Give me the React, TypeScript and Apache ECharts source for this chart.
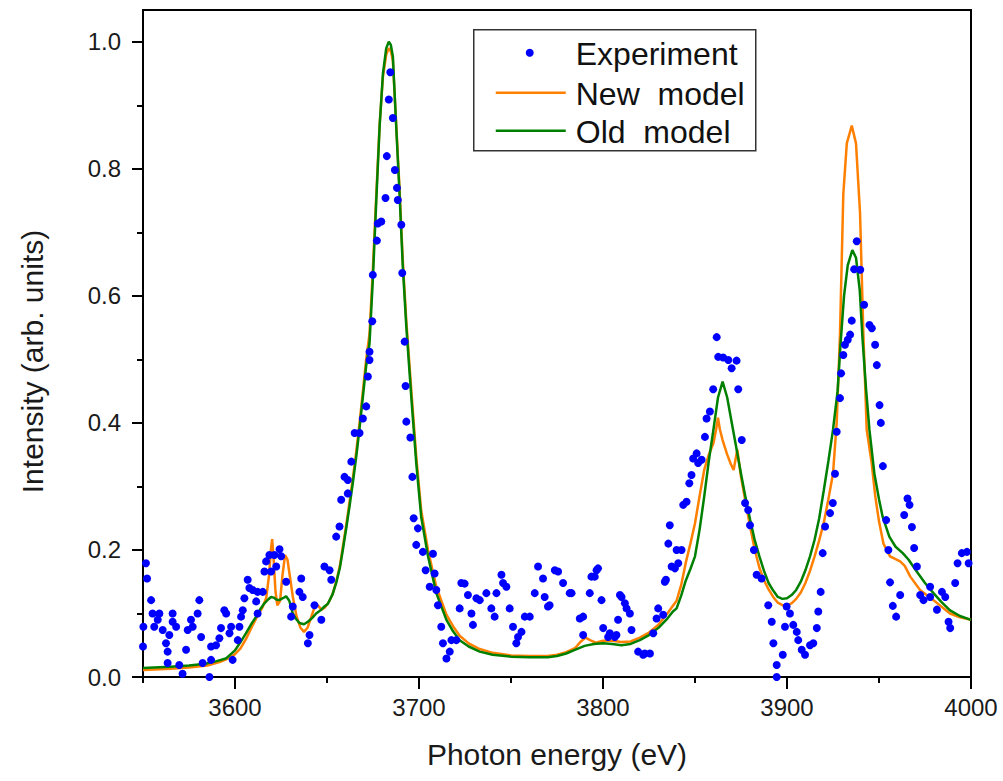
import React, { useEffect, useRef } from "react";
import * as echarts from "echarts";

// ---------- data ----------
const xMajorTicks = [3600, 3700, 3800, 3900, 4000];
const xMinorTicks = [3550, 3650, 3750, 3850, 3950];
const yMajorTicks = [0, 0.2, 0.4, 0.6, 0.8, 1.0];
const yMinorTicks = [0.1, 0.3, 0.5, 0.7, 0.9];

const seriesNames = ["Experiment", "New  model", "Old  model"];

const experiment: [number, number][] = [
  [3550.2, 0.079], [3550, 0.048], [3551.6, 0.179], [3552.2, 0.155], [3554.4, 0.121], [3555.2, 0.1],
  [3556.1, 0.079], [3558, 0.09], [3558.9, 0.1], [3560.7, 0.074], [3562.5, 0.053], [3563.4, 0.04],
  [3563.4, 0.022], [3564.3, 0.066], [3566.1, 0.1], [3566.1, 0.087], [3568, 0.079], [3569.7, 0.019],
  [3571.5, 0.005], [3573.4, 0.043], [3574.3, 0.074], [3576.1, 0.09], [3577, 0.079], [3579.7, 0.1],
  [3580.6, 0.121], [3581.6, 0.063], [3582.4, 0.022], [3586.1, 0.0], [3587, 0.027], [3587, 0.048],
  [3589.7, 0.05], [3591.5, 0.061], [3592.4, 0.077], [3594.2, 0.105], [3595.2, 0.1], [3597, 0.069],
  [3597.9, 0.079], [3598.7, 0.027], [3601.5, 0.058], [3602.4, 0.079], [3603.3, 0.095], [3604.2, 0.105],
  [3605.1, 0.124], [3606.9, 0.153], [3607.8, 0.14], [3609.6, 0.137], [3611.5, 0.119], [3612.3, 0.1],
  [3612.3, 0.134], [3615.1, 0.134], [3616, 0.166], [3616.9, 0.182], [3618.7, 0.192], [3619.6, 0.166],
  [3621.4, 0.192], [3622.4, 0.174], [3624.2, 0.201], [3625.1, 0.19], [3627.8, 0.15], [3630.5, 0.095],
  [3631.4, 0.111], [3635, 0.134], [3636, 0.155], [3636.8, 0.126], [3639.6, 0.053], [3640.5, 0.066],
  [3643.2, 0.113], [3646.9, 0.09], [3648.6, 0.174], [3651.4, 0.168], [3652.3, 0.153], [3655, 0.221],
  [3656.8, 0.237], [3657.7, 0.279], [3659.5, 0.315], [3661.3, 0.31], [3661.3, 0.289], [3663.2, 0.339],
  [3665, 0.384], [3667.7, 0.384], [3669.5, 0.407], [3671.3, 0.426], [3672.2, 0.473], [3673.1, 0.499],
  [3673.1, 0.512], [3674.6, 0.56], [3674.9, 0.633], [3677.1, 0.687], [3677.6, 0.714], [3679.5, 0.717],
  [3681.8, 0.754], [3682.5, 0.82], [3683.6, 0.909], [3684.4, 0.952], [3685.8, 0.88], [3686.9, 0.798],
  [3688, 0.77], [3688.5, 0.751], [3690.4, 0.712], [3690.9, 0.636], [3692.2, 0.528], [3692.7, 0.458],
  [3693.1, 0.402], [3695.3, 0.377], [3696.4, 0.315], [3697.1, 0.25], [3699.4, 0.234], [3698.5, 0.208],
  [3702.1, 0.197], [3703.6, 0.168], [3707.6, 0.194], [3705.8, 0.142], [3708.5, 0.163], [3709.4, 0.137],
  [3710.3, 0.113], [3712.1, 0.079], [3713, 0.053], [3714.9, 0.029], [3716.7, 0.04], [3717.6, 0.058],
  [3720.3, 0.058], [3722.1, 0.108], [3723, 0.148], [3724.8, 0.147], [3726.6, 0.129], [3728.5, 0.1],
  [3729.3, 0.082], [3731.2, 0.124], [3733, 0.121], [3736.6, 0.132], [3739.3, 0.108], [3741.1, 0.095],
  [3742.1, 0.132], [3744.8, 0.161], [3745.7, 0.148], [3747.5, 0.142], [3749.3, 0.108], [3751.1, 0.079],
  [3752.9, 0.053], [3753.8, 0.063], [3755.7, 0.071], [3757.5, 0.095], [3760.2, 0.095], [3762.9, 0.132],
  [3764.7, 0.174], [3767.4, 0.155], [3768.3, 0.126], [3770.1, 0.111], [3771, 0.113], [3773.8, 0.168],
  [3775.6, 0.166], [3778.3, 0.148], [3781.9, 0.132], [3782.9, 0.132], [3787.4, 0.092], [3789.2, 0.095],
  [3789.2, 0.066], [3792.8, 0.132], [3793.7, 0.158], [3795.5, 0.158], [3796.5, 0.168], [3797.3, 0.171],
  [3799.2, 0.121], [3800.1, 0.077], [3802.8, 0.063], [3803.7, 0.069], [3806.4, 0.063], [3807.3, 0.066],
  [3808.2, 0.09], [3809.2, 0.129], [3810.1, 0.126], [3811.9, 0.116], [3812.8, 0.108], [3814.6, 0.1],
  [3815.5, 0.074], [3819.1, 0.04], [3821.8, 0.035], [3822.7, 0.037], [3825.5, 0.037], [3827.3, 0.069],
  [3829.1, 0.092], [3830, 0.108], [3832.7, 0.098], [3833.6, 0.15], [3834.2, 0.153], [3835.5, 0.21],
  [3836.3, 0.239], [3837.3, 0.174], [3839.1, 0.171], [3840, 0.2], [3840.9, 0.179], [3842.7, 0.2],
  [3843.6, 0.271], [3845.4, 0.276], [3846.9, 0.305], [3848.1, 0.318], [3849, 0.344], [3850.9, 0.352],
  [3851.7, 0.337], [3853.6, 0.342], [3855.4, 0.378], [3856.3, 0.407], [3858.1, 0.418], [3859.9, 0.453],
  [3861.8, 0.535], [3862.6, 0.504], [3865.3, 0.503], [3868.1, 0.499], [3869.9, 0.486], [3872.6, 0.498],
  [3873.5, 0.453], [3875.4, 0.373], [3877.2, 0.274], [3878.9, 0.263], [3879.9, 0.239], [3882, 0.2],
  [3883.5, 0.161], [3886.2, 0.155], [3889.8, 0.113], [3891.7, 0.087], [3892.6, 0.053], [3894.4, 0.019],
  [3894.4, 0.0], [3897.7, 0.035], [3898.9, 0.079], [3899.8, 0.111], [3901.6, 0.1], [3903.4, 0.082],
  [3905.3, 0.071], [3906.1, 0.058], [3908, 0.043], [3909.8, 0.035], [3912.5, 0.05], [3914.3, 0.053],
  [3916.2, 0.077], [3917, 0.103], [3918.3, 0.134], [3919.4, 0.195], [3920.7, 0.237], [3923.4, 0.258],
  [3924.9, 0.274], [3926.1, 0.32], [3927, 0.386], [3928.8, 0.439], [3929.4, 0.478], [3930.6, 0.507],
  [3931.5, 0.523], [3933, 0.531], [3934.3, 0.539], [3935.2, 0.561], [3936.5, 0.642], [3937.9, 0.686],
  [3939.8, 0.641], [3941.9, 0.586], [3944.8, 0.554], [3946.1, 0.549], [3947.9, 0.523], [3948.8, 0.491],
  [3950.3, 0.428], [3951, 0.4], [3952.1, 0.332], [3953.9, 0.247], [3955.1, 0.2], [3956, 0.149],
  [3957.5, 0.112], [3959.3, 0.095], [3961.5, 0.129], [3963.7, 0.255], [3965.5, 0.281], [3966.6, 0.271],
  [3967.9, 0.236], [3969.1, 0.203], [3970.6, 0.174], [3972.4, 0.129], [3974.2, 0.121], [3977.8, 0.126],
  [3977.8, 0.142], [3981.5, 0.106], [3984.2, 0.134], [3986, 0.126], [3987.8, 0.087], [3988.7, 0.077],
  [3991.4, 0.148], [3992.7, 0.179], [3995, 0.195], [3997.8, 0.197], [3998.7, 0.179],
];

const newModel: [number, number][] = [
  [3550, 0.011], [3565, 0.013], [3575, 0.015], [3585, 0.018], [3592, 0.024], [3597, 0.03], [3600, 0.036],
  [3603, 0.045], [3606, 0.06], [3609, 0.078], [3612, 0.095], [3615, 0.11], [3617, 0.125], [3618.5, 0.16],
  [3619.5, 0.2], [3620.2, 0.217], [3621, 0.185], [3622, 0.135], [3623, 0.113], [3624.5, 0.12],
  [3625.8, 0.16], [3627.2, 0.192], [3628.5, 0.185], [3630, 0.155], [3631.5, 0.125], [3633.5, 0.095],
  [3635.5, 0.078], [3637.5, 0.071], [3639.5, 0.078], [3641.5, 0.095], [3643.5, 0.112], [3645, 0.113],
  [3647, 0.106], [3649, 0.11], [3651, 0.118], [3653, 0.13], [3655, 0.15], [3657, 0.175], [3658.6, 0.205],
  [3660.5, 0.24], [3662.2, 0.275], [3664, 0.312], [3665.9, 0.355], [3667.7, 0.4], [3669.5, 0.45],
  [3671.3, 0.5], [3673.1, 0.54], [3674.9, 0.64], [3676.8, 0.76], [3678.6, 0.87], [3680.4, 0.945],
  [3682.2, 0.98], [3683.6, 0.99], [3684.7, 0.985], [3685.8, 0.97], [3687.6, 0.87], [3689.4, 0.77],
  [3691.2, 0.655], [3693.1, 0.56], [3695.8, 0.452], [3698.5, 0.347], [3701.2, 0.262], [3704.9, 0.2],
  [3709.4, 0.142], [3714.9, 0.098], [3718.5, 0.08], [3722.1, 0.065], [3727, 0.053], [3733, 0.044],
  [3740, 0.038], [3750, 0.034], [3760, 0.033], [3770, 0.033], [3775, 0.035], [3780, 0.039], [3785, 0.046],
  [3788, 0.056], [3790.5, 0.062], [3793, 0.058], [3796, 0.054], [3800, 0.057], [3805, 0.057], [3810, 0.055],
  [3815, 0.056], [3820, 0.062], [3825, 0.07], [3830, 0.082], [3835, 0.1], [3838, 0.112], [3840, 0.12],
  [3842.5, 0.145], [3845, 0.18], [3847.5, 0.21], [3850, 0.242], [3852.5, 0.285], [3855, 0.326],
  [3857.5, 0.35], [3860, 0.368], [3861.5, 0.39], [3862.5, 0.408], [3863.5, 0.39], [3865, 0.373],
  [3867.5, 0.35], [3869.5, 0.335], [3871, 0.326], [3873, 0.358], [3875, 0.315], [3877.5, 0.275],
  [3880, 0.236], [3882.5, 0.2], [3885, 0.172], [3887.5, 0.152], [3890, 0.138], [3892.5, 0.126],
  [3895, 0.117], [3897.5, 0.113], [3900, 0.113], [3902.5, 0.116], [3905, 0.123], [3907.5, 0.133],
  [3910, 0.148], [3912.5, 0.167], [3915, 0.19], [3917.5, 0.215], [3920, 0.243], [3922.5, 0.28],
  [3925, 0.32], [3927, 0.4], [3928.8, 0.54], [3930.6, 0.76], [3932.5, 0.84], [3935.2, 0.868],
  [3937.5, 0.84], [3939.7, 0.73], [3941.5, 0.54], [3942.4, 0.467], [3943.3, 0.39], [3946, 0.337],
  [3948, 0.284], [3950, 0.245], [3952.4, 0.21], [3956, 0.19], [3961.5, 0.182], [3964, 0.175],
  [3967, 0.158], [3972.3, 0.137], [3979.6, 0.121], [3988.6, 0.1], [3994, 0.094], [4000, 0.09],
];

const oldModel: [number, number][] = [
  [3550, 0.014], [3565, 0.016], [3575, 0.018], [3584, 0.021], [3590, 0.025], [3595, 0.029], [3600, 0.042],
  [3603, 0.055], [3606, 0.069], [3609, 0.084], [3611.5, 0.095], [3614, 0.108], [3616, 0.116],
  [3618, 0.122], [3619.6, 0.126], [3621, 0.125], [3622.4, 0.122], [3624, 0.121], [3626, 0.124],
  [3627.8, 0.127], [3629.5, 0.12], [3631.4, 0.1], [3633, 0.092], [3635, 0.085], [3637.5, 0.083],
  [3639.6, 0.087], [3642, 0.093], [3644.1, 0.1], [3646.5, 0.105], [3648.6, 0.111], [3650.4, 0.115],
  [3653, 0.13], [3655, 0.148], [3657, 0.172], [3658.6, 0.2], [3660.5, 0.235], [3662.2, 0.268],
  [3664, 0.305], [3665.9, 0.347], [3667.7, 0.392], [3669.5, 0.441], [3671.3, 0.49], [3673.1, 0.525],
  [3674.9, 0.625], [3676.8, 0.751], [3678.6, 0.867], [3680.4, 0.95], [3682.2, 0.99], [3683.6, 1.0],
  [3684.7, 0.995], [3685.8, 0.977], [3687.6, 0.867], [3689.4, 0.762], [3691.2, 0.646], [3693.1, 0.552],
  [3695.8, 0.441], [3698.5, 0.337], [3701.2, 0.252], [3704.9, 0.19], [3709.4, 0.132], [3714.9, 0.09],
  [3718.5, 0.072], [3722.1, 0.058], [3727, 0.048], [3733, 0.04], [3740, 0.035], [3750, 0.032],
  [3760, 0.031], [3770, 0.031], [3775, 0.033], [3780, 0.037], [3785, 0.043], [3790, 0.049], [3795, 0.052],
  [3800, 0.053], [3805, 0.052], [3810, 0.05], [3815, 0.052], [3820, 0.058], [3825, 0.066], [3830, 0.077],
  [3835, 0.092], [3838, 0.103], [3840, 0.108], [3842.5, 0.128], [3845, 0.152], [3847.5, 0.17],
  [3850, 0.19], [3852.5, 0.232], [3855, 0.284], [3857.5, 0.34], [3860, 0.389], [3862.5, 0.44],
  [3865, 0.465], [3867.5, 0.44], [3870, 0.4], [3872.5, 0.36], [3875, 0.32], [3877.5, 0.282],
  [3880, 0.247], [3882.5, 0.215], [3885, 0.19], [3887.5, 0.167], [3890, 0.148], [3892.5, 0.136],
  [3895, 0.126], [3897.5, 0.123], [3900, 0.124], [3902.5, 0.129], [3905, 0.137], [3907.5, 0.15],
  [3910, 0.168], [3912.5, 0.19], [3915, 0.216], [3917.5, 0.25], [3920, 0.294], [3922.5, 0.34],
  [3925, 0.389], [3927.5, 0.45], [3929, 0.52], [3931, 0.6], [3933, 0.648], [3935.5, 0.672],
  [3937.5, 0.66], [3939.5, 0.61], [3941.1, 0.53], [3943, 0.452], [3944.8, 0.389], [3947.5, 0.32],
  [3950, 0.28], [3952, 0.252], [3955.6, 0.221], [3959, 0.205], [3962.9, 0.195], [3966, 0.185],
  [3970, 0.168], [3975, 0.148], [3979.6, 0.132], [3984, 0.118], [3988.6, 0.105], [3994, 0.096],
  [4000, 0.09],
];

// ---------- styles ----------
const FONT = "'Liberation Sans', Arial, Helvetica, sans-serif";
const BLUE = "#0000FF";
const ORANGE = "#FF8000";
const GREEN = "#008000";
const AXIS = "#000";
const TEXT = "#1a1a1a";

export default function App() {
  const ref = useRef<HTMLDivElement>(null);

  useEffect(() => {
    if (!ref.current) return;
    const chart = echarts.init(ref.current, undefined, { renderer: "svg" });

    const baseX = { type: "value", min: 3550, max: 4000, interval: 50, gridIndex: 0, splitLine: { show: false } };
    const baseY = { type: "value", min: 0, max: 1.05, interval: 0.2, gridIndex: 0, splitLine: { show: false } };

    chart.setOption({
      animation: false,
      backgroundColor: "#fff",
      grid: {
        left: 143,
        right: 32,
        top: 10,
        bottom: 104,
        show: true,
        borderColor: AXIS,
        borderWidth: 2,
        backgroundColor: "transparent",
      },
      xAxis: [
        {
          ...baseX,
          position: "bottom",
          axisLine: { show: true, onZero: false, lineStyle: { color: AXIS, width: 2 } },
          axisTick: { show: true, inside: false, length: 12, lineStyle: { color: AXIS, width: 2 }, customValues: xMajorTicks },
          axisLabel: {
            customValues: xMajorTicks,
            formatter: (v: number) => String(v),
            fontSize: 24,
            margin: 18,
            color: TEXT,
            fontFamily: FONT,
          },
          name: "Photon energy (eV)",
          nameLocation: "middle",
          nameGap: 62,
          nameTextStyle: { fontSize: 30, color: TEXT, fontFamily: FONT },
        },
        {
          ...baseX,
          position: "bottom",
          axisLine: { show: false, onZero: false },
          axisTick: { show: true, inside: false, length: 6, lineStyle: { color: AXIS, width: 2 }, customValues: xMinorTicks },
          axisLabel: { show: false },
        },
      ],
      yAxis: [
        {
          ...baseY,
          position: "left",
          axisLine: { show: true, onZero: false, lineStyle: { color: AXIS, width: 2 } },
          axisTick: { show: true, inside: false, length: 11, lineStyle: { color: AXIS, width: 2 }, customValues: yMajorTicks },
          axisLabel: {
            customValues: yMajorTicks,
            formatter: (v: number) => v.toFixed(1),
            fontSize: 24,
            margin: 22,
            color: TEXT,
            fontFamily: FONT,
          },
          name: "Intensity (arb. units)",
          nameLocation: "middle",
          nameGap: 96,
          nameTextStyle: { fontSize: 30, color: TEXT, fontFamily: FONT, padding: [0, 36, 0, 0] },
        },
        {
          ...baseY,
          position: "left",
          axisLine: { show: false, onZero: false },
          axisTick: { show: true, inside: false, length: 6, lineStyle: { color: AXIS, width: 2 }, customValues: yMinorTicks },
          axisLabel: { show: false },
        },
      ],
      series: [
        {
          name: seriesNames[1],
          type: "line",
          data: newModel,
          xAxisIndex: 0,
          yAxisIndex: 0,
          symbol: "none",
          lineStyle: { color: ORANGE, width: 2.5 },
          itemStyle: { color: ORANGE },
          z: 2,
        },
        {
          name: seriesNames[2],
          type: "line",
          data: oldModel,
          xAxisIndex: 0,
          yAxisIndex: 0,
          symbol: "none",
          lineStyle: { color: GREEN, width: 2.5 },
          itemStyle: { color: GREEN },
          z: 3,
        },
        {
          name: seriesNames[0],
          type: "scatter",
          data: experiment,
          xAxisIndex: 0,
          yAxisIndex: 0,
          symbol: "circle",
          symbolSize: 8,
          itemStyle: { color: BLUE, opacity: 1 },
          z: 4,
        },
      ],
      graphic: [
        {
          type: "group",
          left: 473,
          top: 29,
          z: 100,
          children: [
            {
              type: "rect",
              shape: { x: 0, y: 0, width: 282, height: 121 },
              style: { fill: "#fff", stroke: "#333", lineWidth: 1.5 },
            },
            { type: "circle", shape: { cx: 56, cy: 23, r: 4 }, style: { fill: BLUE } },
            {
              type: "text",
              x: 102,
              y: 24,
              style: { text: seriesNames[0], fontSize: 32, fontFamily: FONT, fill: "#111", verticalAlign: "middle" },
            },
            { type: "line", shape: { x1: 22, y1: 63, x2: 92, y2: 63 }, style: { stroke: ORANGE, lineWidth: 2.5 } },
            {
              type: "text",
              x: 102,
              y: 64,
              style: { text: seriesNames[1], fontSize: 32, fontFamily: FONT, fill: "#111", verticalAlign: "middle" },
            },
            { type: "line", shape: { x1: 22, y1: 101, x2: 92, y2: 101 }, style: { stroke: GREEN, lineWidth: 2.5 } },
            {
              type: "text",
              x: 102,
              y: 102,
              style: { text: seriesNames[2], fontSize: 32, fontFamily: FONT, fill: "#111", verticalAlign: "middle" },
            },
          ],
        },
      ],
    });

    return () => chart.dispose();
  }, []);

  return (
    <div
      ref={ref}
      style={{ position: "fixed", left: 0, top: 0, width: 1003, height: 781, background: "#fff" }}
    />
  );
}
